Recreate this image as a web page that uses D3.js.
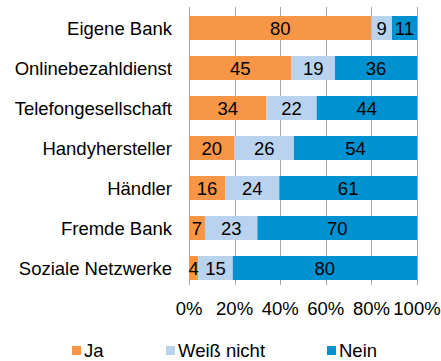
<!DOCTYPE html>
<html>
<head>
<meta charset="utf-8">
<script src="https://cdn.jsdelivr.net/npm/d3@7"></script>
<style>
  html, body { margin: 0; padding: 0; background: #fff; }
  svg { display: block; font-family: "Liberation Sans", Arial, sans-serif; }
</style>
</head>
<body>
<svg id="chart" width="441" height="361"></svg>
<script>
// Survey answers per institution (percent, rounded as published)
const categories = ["Eigene Bank", "Onlinebezahldienst", "Telefongesellschaft",
  "Handyhersteller", "Händler", "Fremde Bank", "Soziale Netzwerke"];
const seriesNames = ["Ja", "Weiß nicht", "Nein"];
const ja        = [80, 45, 34, 20, 16, 7, 4];
const weissNicht = [9, 19, 22, 26, 24, 23, 15];
const nein      = [11, 36, 44, 54, 61, 70, 80];
const tickValues = [0, 0.2, 0.4, 0.6, 0.8, 1];
const colors = ["#F79646", "#B9D3EF", "#0091D0"];

const rows = categories.map((c, i) => ({
  cat: c, "Ja": ja[i], "Weiß nicht": weissNicht[i], "Nein": nein[i]
}));
// 100% stacked: each row is normalised to its own total
const stacked = d3.stack().keys(seriesNames).offset(d3.stackOffsetExpand)(rows);

const svg = d3.select("#chart");
const plotLeft = 189, plotRight = 417, plotTop = 8, plotBottom = 288;
const fontSize = 18.5;

const x = d3.scaleLinear().domain([0, 1]).range([plotLeft, plotRight]);
const y = d3.scaleBand().domain(categories).range([plotTop, plotBottom])
  .paddingInner(0.4).paddingOuter(0.2);
const color = d3.scaleOrdinal().domain(seriesNames).range(colors);

// vertical gridlines (drawn under the bars)
svg.append("g").selectAll("line").data(tickValues).join("line")
  .attr("x1", d => Math.round(x(d)) + 0.5).attr("x2", d => Math.round(x(d)) + 0.5)
  .attr("y1", plotTop - 1).attr("y2", 285)
  .attr("stroke", "#A6A6A6").attr("stroke-width", 1);

// stacked bars
const layers = svg.append("g").selectAll("g").data(stacked).join("g")
  .attr("fill", d => color(d.key));
layers.selectAll("rect").data(d => d).join("rect")
  .attr("x", d => x(d[0]))
  .attr("y", d => y(d.data.cat))
  .attr("width", d => x(d[1]) - x(d[0]))
  .attr("height", y.bandwidth());

// value labels inside segments
const labels = svg.append("g").attr("font-size", fontSize).attr("fill", "#000")
  .attr("text-anchor", "middle");
stacked.forEach(s => {
  labels.selectAll(null).data(s).join("text")
    .attr("x", d => (x(d[0]) + x(d[1])) / 2)
    .attr("y", d => y(d.data.cat) + y.bandwidth() / 2)
    .attr("dy", "0.36em")
    .text(d => d.data[s.key]);
});

// category axis labels
svg.append("g").attr("font-size", fontSize).attr("fill", "#000").attr("text-anchor", "end")
  .selectAll("text").data(categories).join("text")
  .attr("x", 172)
  .attr("y", d => y(d) + y.bandwidth() / 2)
  .attr("dy", "0.36em")
  .text(d => d);

// percentage axis labels
svg.append("g").attr("font-size", fontSize).attr("fill", "#000").attr("text-anchor", "middle")
  .selectAll("text").data(tickValues).join("text")
  .attr("x", d => x(d))
  .attr("y", 315)
  .text(d => d3.format(".0%")(d));

// legend
const legendX = [72, 166, 327];
const legend = svg.append("g").selectAll("g").data(seriesNames).join("g")
  .attr("transform", (d, i) => `translate(${legendX[i]},346)`);
legend.append("rect").attr("width", 9).attr("height", 9).attr("fill", d => color(d));
legend.append("text").attr("x", 12).attr("y", 11).attr("font-size", fontSize)
  .attr("fill", "#000").text(d => d);
</script>
</body>
</html>
